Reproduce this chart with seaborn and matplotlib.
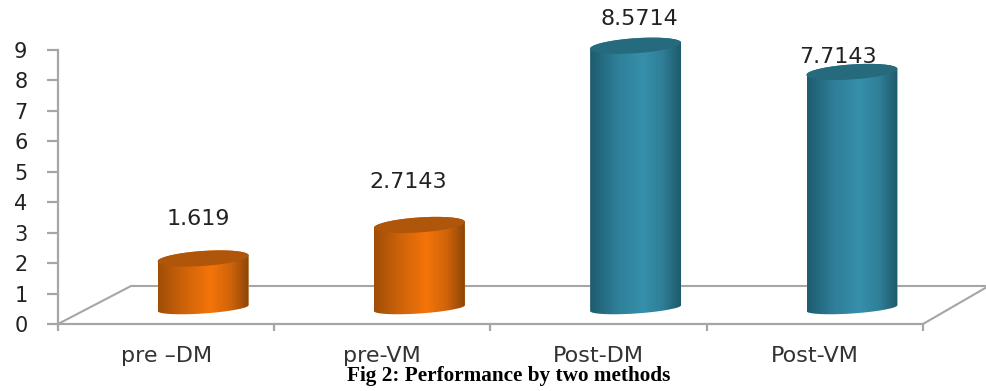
import numpy as np
import pandas as pd
import matplotlib
matplotlib.use("Agg")
import matplotlib.pyplot as plt
import seaborn as sns
from matplotlib.colors import LinearSegmentedColormap
from matplotlib.patches import Polygon

categories = ["pre \u2013DM", "pre-VM", "Post-DM", "Post-VM"]
values = [1.619, 2.7143, 8.5714, 7.7143]
groups = ["pre", "pre", "post", "post"]
value_labels = ["1.619", "2.7143", "8.5714", "7.7143"]
y_ticks = list(range(10))

W, H = 987, 391
GREY = "#a6a6a6"
top_colors = {"pre": "#b0560a", "post": "#256a7d"}
side_colors = {
    "pre": [(0, "#a04e06"), (0.3, "#d0640a"), (0.58, "#f47409"), (0.8, "#d0640a"), (1, "#8e4607")],
    "post": [(0, "#1e5c70"), (0.3, "#2f7f98"), (0.58, "#368fab"), (0.8, "#2f7f98"), (1, "#1f5a6a")],
}
# label centre relative to the bar's top centre, pixels
label_offsets = [(-5, 39), (-11, 43), (4, 27), (-14, 15)]

df = pd.DataFrame({"cat": categories, "val": values, "grp": groups})

sns.set_theme(style="white")
plt.rcParams["font.family"] = ["DejaVu Sans"]

fig = plt.figure(figsize=(W / 100, H / 100), dpi=100)
ax = fig.add_axes([58 / W, (H - 324) / H, 865 / W, 274 / H])

# axes and the floor of the fake 3d box
ax.set_xlim(0, 4)
ax.set_ylim(0, 9)
sns.despine(ax=ax)
for s in ["left", "bottom"]:
    ax.spines[s].set_color(GREY)
    ax.spines[s].set_linewidth(1.6)
ax.set_yticks(y_ticks)
ax.set_yticklabels([str(t) for t in y_ticks], fontsize=15, color="#222222")
ax.set_xticks(range(5))
ax.set_xticklabels([])
ax.set_xticks([i + 0.5 for i in range(4)], minor=True)
ax.set_xticklabels(categories, minor=True, fontsize=16, color="#333333")
ax.tick_params(axis="y", length=8, width=1.6, color=GREY, pad=14, left=True)
ax.tick_params(axis="x", which="major", length=5, width=1.6, color=GREY, bottom=True)
ax.tick_params(axis="x", which="minor", length=0, pad=16)
ax.plot([0, 73 / 216.25, 4 + 64 / 216.25], [0, 38 / 30.44, 38 / 30.44], color=GREY, lw=1.5, clip_on=False)
ax.plot([4, 4 + 64 / 216.25], [0, 37 / 30.44], color=GREY, lw=1.5, clip_on=False)

# bars sit on a second axes shifted back into the box, with room below 0 for the round base
bar_ax = fig.add_axes([95 / W, (H - 338.6) / H, 865 / W, 306 / H])
bar_ax.patch.set_alpha(0)
sns.barplot(data=df, x="cat", y="val", hue="grp", dodge=False, width=0.4185,
            palette={"pre": "#f47409", "post": "#368fab"}, legend=False, ax=bar_ax, saturation=1)
bar_ax.set_xlim(-0.5, 3.5)
bar_ax.set_ylim(-1, 9)
bar_ax.axis("off")

bars = [b for c in bar_ax.containers for b in c if b.get_height() > 0]
bars = sorted(bars, key=lambda b: b.get_x())
to_data = bar_ax.transData.inverted()


def ring(cx, cy, t, a=45.5, b=7.5, tilt=3.0):
    return np.column_stack([cx + a * np.cos(t), cy + b * np.sin(t) + tilt * np.cos(t)])


for bar, grp, label, off in zip(bars, groups, value_labels, label_offsets):
    x0, w, h = bar.get_x(), bar.get_width(), bar.get_height()
    cx, base = bar_ax.transData.transform((x0 + w / 2, 0))
    _, top = bar_ax.transData.transform((x0 + w / 2, h))

    # cylinder outline: lower half of the bottom ring, then back along the top ring
    low = ring(cx, base, np.linspace(np.pi, 2 * np.pi, 60), b=5.5)
    upp = ring(cx, top, np.linspace(0, np.pi, 60))
    body = Polygon(to_data.transform(np.vstack([low, upp])), closed=True, transform=bar_ax.transData)
    bar.set_clip_path(body)

    cmap = LinearSegmentedColormap.from_list(grp, side_colors[grp])
    grad = np.linspace(0, 1, 128).reshape(1, -1)
    img = bar_ax.imshow(grad, cmap=cmap, aspect="auto", extent=[x0, x0 + w, -0.9, h + 0.5], zorder=3)
    img.set_clip_path(body)

    cap = ring(cx, top, np.linspace(0, 2 * np.pi, 120))
    bar_ax.add_patch(Polygon(to_data.transform(cap), closed=True, facecolor=top_colors[grp],
                             edgecolor="none", zorder=4))

    lx, ly = to_data.transform((cx + off[0], top + off[1]))
    bar_ax.text(lx, ly, label, ha="center", va="center", fontsize=16, color="#222222",
                clip_on=False, zorder=2)

bar_ax.set_xlim(-0.5, 3.5)
bar_ax.set_ylim(-1, 9)

fig.text(509 / W, 1 - 376 / H, "Fig 2: Performance by two methods", ha="center", va="center",
         family="Liberation Serif", fontweight="bold", fontsize=15.3, color="black")

fig.savefig("out.png", dpi=100, facecolor="white")
